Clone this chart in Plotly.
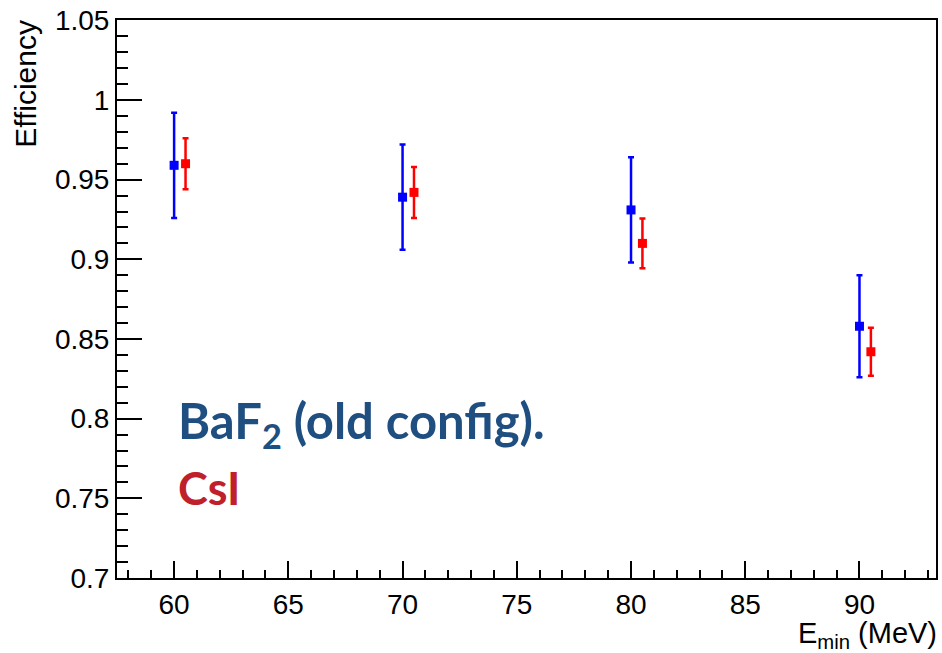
import plotly.graph_objects as go

# Data
e_min = [60, 70, 80, 90]
baf2_eff = [0.959, 0.939, 0.931, 0.858]
baf2_err = [0.033, 0.033, 0.033, 0.032]
csi_offset = 0.5
csi_eff = [0.960, 0.942, 0.910, 0.842]
csi_err = [0.016, 0.016, 0.0156, 0.015]

x_csi = [x + csi_offset for x in e_min]

fig = go.Figure()
fig.add_trace(go.Scatter(
    x=e_min, y=baf2_eff, mode="markers",
    marker=dict(symbol="square", size=9, color="#0000ff"),
    error_y=dict(type="data", array=baf2_err, color="#0000ff", thickness=2.5, width=3),
    showlegend=False))
fig.add_trace(go.Scatter(
    x=x_csi, y=csi_eff, mode="markers",
    marker=dict(symbol="square", size=9, color="#ff0000"),
    error_y=dict(type="data", array=csi_err, color="#ff0000", thickness=2.5, width=3),
    showlegend=False))

FONT = "Liberation Sans, Arial, Helvetica, sans-serif"
axis_font = dict(family=FONT, size=28, color="black")

fig.update_xaxes(
    range=[57.5, 93.35], tickmode="array", tickvals=[60, 65, 70, 75, 80, 85, 90],
    ticks="inside", ticklen=17, tickwidth=2, tickcolor="black",
    minor=dict(ticks="inside", ticklen=8, tickwidth=2, tickcolor="black", dtick=1, tick0=0),
    showline=True, linecolor="black", linewidth=2, mirror=True,
    showgrid=False, zeroline=False, tickfont=axis_font)
fig.update_yaxes(
    range=[0.7, 1.0502], tickmode="array",
    tickvals=[0.7, 0.75, 0.8, 0.85, 0.9, 0.95, 1.0, 1.05],
    ticktext=["0.7", "0.75", "0.8", "0.85", "0.9", "0.95", "1", "1.05"],
    ticks="inside", ticklen=25, tickwidth=2, tickcolor="black",
    minor=dict(ticks="inside", ticklen=11, tickwidth=2, tickcolor="black", dtick=0.01, tick0=0),
    showline=True, linecolor="black", linewidth=2, mirror=True,
    showgrid=False, zeroline=False, tickfont=axis_font)

fig.add_annotation(xref="paper", yref="paper", x=-0.111, y=1.004, xanchor="center", yanchor="top",
                   text="Efficiency", textangle=-90, showarrow=False,
                   font=dict(family=FONT, size=30, color="black"))
fig.add_annotation(xref="paper", yref="paper", x=1.004, y=-0.103, xanchor="right", yanchor="middle",
                   text="E<sub>min</sub> (MeV)", showarrow=False,
                   font=dict(family=FONT, size=29, color="black"))

fig.add_annotation(xref="paper", yref="paper", x=0.072, y=0.276, xanchor="left", yanchor="middle",
                   text="<b>BaF<sub>2</sub> (old config).</b>", showarrow=False,
                   font=dict(family="Lato, Open Sans, sans-serif", size=49, color="#1f4e80"))
fig.add_annotation(xref="paper", yref="paper", x=0.072, y=0.162, xanchor="left", yanchor="middle",
                   text="<b>CsI</b>", showarrow=False,
                   font=dict(family="Lato, Open Sans, sans-serif", size=45, color="#c0202a"))

fig.update_layout(
    width=942, height=653,
    margin=dict(l=117, r=4, t=20, b=75),
    plot_bgcolor="white", paper_bgcolor="white",
)

# remove the default 8px page margin so the figure fills the window exactly
fig.write_html("out.html", config={"displayModeBar": False},
               post_script="document.body.style.margin='0';")
